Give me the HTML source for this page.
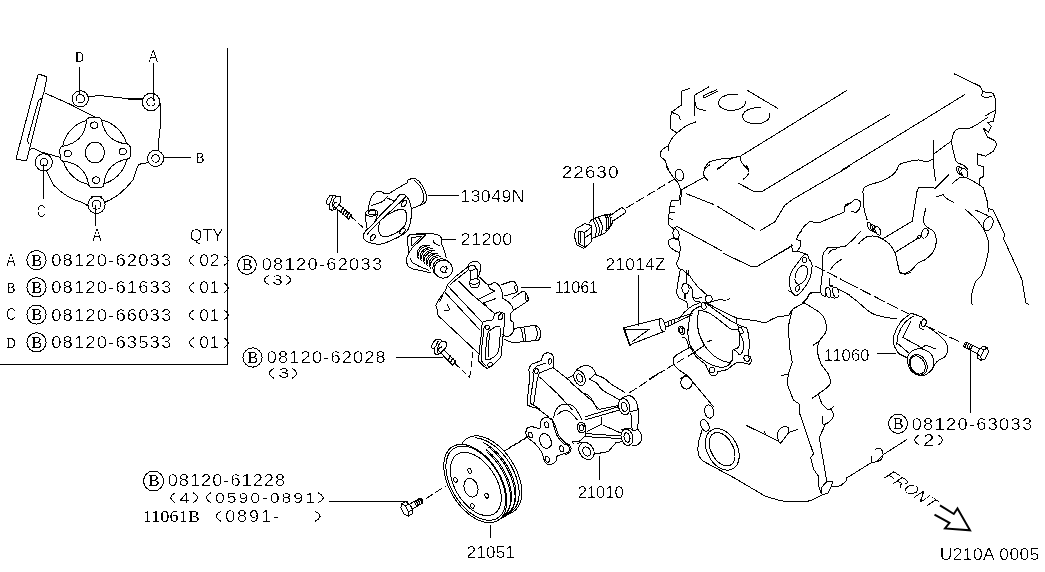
<!DOCTYPE html>
<html><head><meta charset="utf-8"><title>Water pump diagram</title>
<style>
html,body{margin:0;padding:0;background:#fff;}
body{width:1045px;height:572px;overflow:hidden;font-family:"Liberation Sans",sans-serif;}
svg{display:block;position:absolute;left:0;top:0;}
svg{will-change:transform;}
.l{fill:none;stroke:#000;stroke-width:1;shape-rendering:crispEdges;stroke-linecap:round;stroke-linejoin:round;}
.w{fill:#fff;stroke:#000;stroke-width:1;shape-rendering:crispEdges;stroke-linejoin:round;}
.t{font-family:"Liberation Sans",sans-serif;fill:#000;filter:url(#cr);}
.ts{font-family:"Liberation Serif",serif;fill:#000;filter:url(#cs);}
</style></head><body>
<svg width="1045" height="572" viewBox="0 0 1045 572">
<defs><filter id="cr" x="-5%" y="-20%" width="110%" height="140%" color-interpolation-filters="sRGB"><feComponentTransfer><feFuncA type="discrete" tableValues="0 0 1"/></feComponentTransfer></filter><filter id="cs" x="-5%" y="-20%" width="110%" height="140%" color-interpolation-filters="sRGB"><feComponentTransfer><feFuncA type="discrete" tableValues="0 1"/></feComponentTransfer></filter></defs>

<!-- 00_text.svg -->
<path class="l" d="M227.5 48.0L227.5 364.0"/>
<path class="l" d="M0.0 364.5L227.5 364.5"/>
<text class="ts" x="75.00" y="62.00" font-size="15.6" textLength="9.00" lengthAdjust="spacingAndGlyphs">D</text>
<text class="t" x="148.55" y="62.30" font-size="16.0" textLength="9.50" lengthAdjust="spacingAndGlyphs">A</text>
<text class="ts" x="195.50" y="163.00" font-size="15.6" textLength="9.00" lengthAdjust="spacingAndGlyphs">B</text>
<text class="t" x="36.80" y="217.30" font-size="16.0" textLength="9.00" lengthAdjust="spacingAndGlyphs">C</text>
<text class="t" x="92.25" y="241.30" font-size="16.0" textLength="9.50" lengthAdjust="spacingAndGlyphs">A</text>
<text class="t" transform="translate(189.70 241.30) scale(1.01 1)" font-size="16.0" textLength="33.16" lengthAdjust="spacing">QTY</text>
<text class="t" x="6.25" y="265.60" font-size="16.0" textLength="9.50" lengthAdjust="spacingAndGlyphs">A</text>
<circle class="l" cx="36.5" cy="260.1" r="9.6"/>
<text class="ts" x="31.30" y="265.50" font-size="16.2" textLength="11.00" lengthAdjust="spacingAndGlyphs">B</text>
<text class="t" transform="translate(51.20 266.00) scale(1.15 1)" font-size="16.1" textLength="104.43" lengthAdjust="spacing">08120-62033</text>
<path class="l" d="M193.5 255.8Q190.3 257.3 189.0 260.6Q190.3 263.8 193.5 265.3"/>
<text class="t" transform="translate(199.20 266.00) scale(1.08 1)" font-size="16.1" textLength="18.63" lengthAdjust="spacing">02</text>
<path class="l" d="M224.0 255.8Q227.2 257.3 228.5 260.6Q227.2 263.8 224.0 265.3"/>
<text class="ts" x="6.50" y="292.50" font-size="15.6" textLength="9.00" lengthAdjust="spacingAndGlyphs">B</text>
<circle class="l" cx="36.5" cy="287.3" r="9.6"/>
<text class="ts" x="31.30" y="292.70" font-size="16.2" textLength="11.00" lengthAdjust="spacingAndGlyphs">B</text>
<text class="t" transform="translate(51.20 293.20) scale(1.15 1)" font-size="16.1" textLength="104.43" lengthAdjust="spacing">08120-61633</text>
<path class="l" d="M193.5 283.0Q190.3 284.5 189.0 287.8Q190.3 291.0 193.5 292.5"/>
<text class="t" transform="translate(199.20 293.20) scale(1.08 1)" font-size="16.1" textLength="18.63" lengthAdjust="spacing">01</text>
<path class="l" d="M224.0 283.0Q227.2 284.5 228.5 287.8Q227.2 291.0 224.0 292.5"/>
<text class="t" x="6.25" y="320.10" font-size="16.0" textLength="9.50" lengthAdjust="spacingAndGlyphs">C</text>
<circle class="l" cx="36.5" cy="314.6" r="9.6"/>
<text class="ts" x="31.30" y="320.00" font-size="16.2" textLength="11.00" lengthAdjust="spacingAndGlyphs">B</text>
<text class="t" transform="translate(51.20 320.50) scale(1.15 1)" font-size="16.1" textLength="104.43" lengthAdjust="spacing">08120-66033</text>
<path class="l" d="M193.5 310.3Q190.3 311.8 189.0 315.1Q190.3 318.3 193.5 319.8"/>
<text class="t" transform="translate(199.20 320.50) scale(1.08 1)" font-size="16.1" textLength="18.63" lengthAdjust="spacing">01</text>
<path class="l" d="M224.0 310.3Q227.2 311.8 228.5 315.1Q227.2 318.3 224.0 319.8"/>
<text class="ts" x="6.50" y="347.50" font-size="15.6" textLength="9.00" lengthAdjust="spacingAndGlyphs">D</text>
<circle class="l" cx="36.5" cy="342.3" r="9.6"/>
<text class="ts" x="31.30" y="347.70" font-size="16.2" textLength="11.00" lengthAdjust="spacingAndGlyphs">B</text>
<text class="t" transform="translate(51.20 348.20) scale(1.15 1)" font-size="16.1" textLength="104.43" lengthAdjust="spacing">08120-63533</text>
<path class="l" d="M193.5 338.0Q190.3 339.5 189.0 342.8Q190.3 346.0 193.5 347.5"/>
<text class="t" transform="translate(199.20 348.20) scale(1.08 1)" font-size="16.1" textLength="18.63" lengthAdjust="spacing">01</text>
<path class="l" d="M224.0 338.0Q227.2 339.5 228.5 342.8Q227.2 346.0 224.0 347.5"/>
<circle class="l" cx="247.0" cy="265.0" r="9.3"/>
<text class="ts" x="241.80" y="270.40" font-size="16.2" textLength="11.00" lengthAdjust="spacingAndGlyphs">B</text>
<text class="t" transform="translate(261.70 270.30) scale(1.15 1)" font-size="15.9" textLength="104.70" lengthAdjust="spacing">08120-62033</text>
<path class="l" d="M268.5 275.5Q265.4 277.0 264.0 280.0Q265.4 283.0 268.5 284.5"/>
<text class="t" x="272.20" y="284.80" font-size="15.0" textLength="10.60" lengthAdjust="spacingAndGlyphs">3</text>
<path class="l" d="M286.5 275.5Q289.6 277.0 291.0 280.0Q289.6 283.0 286.5 284.5"/>
<path class="l" d="M337.5 207.0L337.5 252.5"/>
<text class="t" transform="translate(460.20 201.80) scale(1.07 1)" font-size="16.6" textLength="60.28" lengthAdjust="spacing">13049N</text>
<path class="l" d="M427.5 195.0L458.5 195.0"/>
<text class="t" transform="translate(460.50 245.30) scale(1.08 1)" font-size="16.6" textLength="48.00" lengthAdjust="spacing">21200</text>
<path class="l" d="M442.0 239.5L456.0 239.5"/>
<text class="t" transform="translate(561.70 177.80) scale(1.15 1)" font-size="16.6" textLength="49.42" lengthAdjust="spacing">22630</text>
<path class="l" d="M593.8 183.5L593.8 218.5"/>
<text class="t" transform="translate(605.50 270.30) scale(1.04 1)" font-size="16.6" textLength="57.72" lengthAdjust="spacing">21014Z</text>
<path class="l" d="M638.8 275.0L638.8 326.0"/>
<text class="t" transform="translate(554.70 293.30) scale(1.00 1)" font-size="16.6" textLength="43.60" lengthAdjust="spacing">11061</text>
<path class="l" d="M521.0 287.5L551.0 287.5"/>
<circle class="l" cx="252.5" cy="357.5" r="9.6"/>
<text class="ts" x="247.30" y="362.90" font-size="16.2" textLength="11.00" lengthAdjust="spacingAndGlyphs">B</text>
<text class="t" transform="translate(266.70 362.80) scale(1.15 1)" font-size="15.9" textLength="103.57" lengthAdjust="spacing">08120-62028</text>
<path class="l" d="M273.5 368.5Q270.4 370.0 269.0 373.2Q270.4 376.5 273.5 378.0"/>
<text class="t" x="278.20" y="378.30" font-size="15.0" textLength="11.10" lengthAdjust="spacingAndGlyphs">3</text>
<path class="l" d="M292.5 368.5Q295.6 370.0 297.0 373.2Q295.6 376.5 292.5 378.0"/>
<path class="l" d="M396.3 357.5L442.5 357.5"/>
<circle class="l" cx="153.6" cy="481.0" r="10.0"/>
<text class="ts" x="148.40" y="486.40" font-size="16.2" textLength="11.00" lengthAdjust="spacingAndGlyphs">B</text>
<text class="t" transform="translate(167.70 486.00) scale(1.15 1)" font-size="15.9" textLength="102.09" lengthAdjust="spacing">08120-61228</text>
<path class="l" d="M175.0 493.0Q171.8 494.5 170.5 497.8Q171.8 501.0 175.0 502.5"/>
<text class="t" x="179.20" y="502.80" font-size="15.0" textLength="10.60" lengthAdjust="spacingAndGlyphs">4</text>
<path class="l" d="M193.5 493.0Q196.7 494.5 198.0 497.8Q196.7 501.0 193.5 502.5"/>
<path class="l" d="M210.5 493.0Q207.3 494.5 206.0 497.8Q207.3 501.0 210.5 502.5"/>
<text class="t" transform="translate(215.00 502.80) scale(1.15 1)" font-size="15.4" textLength="86.78" lengthAdjust="spacing">0590-0891</text>
<path class="l" d="M318.5 493.0Q322.0 494.5 323.5 497.8Q322.0 501.0 318.5 502.5"/>
<path class="l" d="M329.0 501.5L408.0 501.5"/>
<text class="ts" x="142.70" y="521.60" font-size="17.6" textLength="57.30" lengthAdjust="spacingAndGlyphs">11061B</text>
<path class="l" d="M220.5 511.5Q217.3 513.0 216.0 516.2Q217.3 519.5 220.5 521.0"/>
<text class="t" transform="translate(225.20 521.80) scale(1.15 1)" font-size="15.6" textLength="46.61" lengthAdjust="spacing">0891-</text>
<path class="l" d="M315.5 511.5Q318.9 513.0 320.3 516.2Q318.9 519.5 315.5 521.0"/>
<text class="t" transform="translate(466.50 557.80) scale(1.03 1)" font-size="16.6" textLength="47.05" lengthAdjust="spacing">21051</text>
<path class="l" d="M490.5 525.3L490.5 537.8"/>
<text class="t" transform="translate(577.70 497.80) scale(1.00 1)" font-size="16.6" textLength="46.10" lengthAdjust="spacing">21010</text>
<path class="l" d="M599.5 456.5L599.5 480.0"/>
<text class="t" transform="translate(824.00 361.30) scale(1.00 1)" font-size="16.6" textLength="45.60" lengthAdjust="spacing">11060</text>
<path class="l" d="M877.0 353.8L896.0 353.8"/>
<circle class="l" cx="898.0" cy="423.8" r="9.5"/>
<text class="ts" x="892.80" y="429.20" font-size="16.2" textLength="11.00" lengthAdjust="spacingAndGlyphs">B</text>
<text class="t" transform="translate(911.70 429.50) scale(1.15 1)" font-size="15.9" textLength="104.70" lengthAdjust="spacing">08120-63033</text>
<path class="l" d="M919.0 435.0Q915.9 436.5 914.5 440.0Q915.9 443.5 919.0 445.0"/>
<text class="t" x="923.20" y="445.80" font-size="15.6" textLength="11.10" lengthAdjust="spacingAndGlyphs">2</text>
<path class="l" d="M938.0 435.0Q941.4 436.5 942.8 440.0Q941.4 443.5 938.0 445.0"/>
<path class="l" d="M970.5 351.3L970.5 412.5"/>
<text class="t" transform="translate(939.70 559.80) scale(1.05 1)" font-size="16.6" textLength="94.96" lengthAdjust="spacing">U210A 0005</text>
<g transform="translate(882.5,477) rotate(33.5) skewX(-22)"><text class="t" x="0" y="0" font-size="15.6" textLength="58" lengthAdjust="spacingAndGlyphs">FRONT</text></g>
<path d="M940 505.3L953.8 514L957.5 508.5L970 530.3L945 528.5L949.5 522.8L934.5 514.5" fill="none" stroke="#000" stroke-width="2" stroke-linejoin="miter"/>
<!-- 10_inset.svg -->
<path class="l" d="M88.5 96.5L100 95.6L128.6 98.7L142.5 99.5"/>
<path class="l" d="M129.2 99L141 99" style="stroke-width:2"/>
<path class="l" d="M159.3 99.5Q160.8 104 160.6 110L160.3 126L158.5 142.2L159 150"/>
<path class="l" d="M148 162.8L142.3 163.3Q138.5 164 137.3 167L133 179.8Q129 185 125.8 188Q121 193 115.8 196.7Q110 200 105.5 202"/>
<path class="l" d="M87.8 206Q85 203.5 82.2 202.6Q74 200 67.3 196.1Q59 191 53.6 185Q50 179 48.7 175L46.5 171"/>
<path class="l" d="M92.2 196.8L100.9 196.8" style="stroke-width:2"/>
<path class="l" d="M44.8 93L68.5 103.5L96 117.5"/>
<path class="l" d="M29.5 149.5Q33 147.5 36 149.5L40 151.7L60 157.3"/>
<path class="l" d="M39.6 74.4L45.7 76.4Q47.2 77 46.8 78.5L44.3 91L42.3 97.5L36.7 120L29.3 149.9L26.8 159.5Q26.3 160.8 24.8 160.6L17.3 159.4Q15.9 159 16.3 157.6L37.8 75.5Q38.3 74 39.6 74.4Z"/>
<path class="l" d="M42 98L38.5 100.5L33 120L27.4 140.5L28.7 144"/>
<circle class="l" cx="94.9" cy="152.2" r="32.8"/>
<g transform="rotate(-2 95.2 152.6)">
<path class="w" d="M102.8 121.1Q103.0 118.5 99.8 117.4L90.6 117.4Q87.4 118.5 87.6 121.1Q84.4 141.8 63.7 145.0Q61.1 144.8 60.0 148.0L60.0 157.2Q61.1 160.4 63.7 160.2Q84.4 163.4 87.6 184.1Q87.4 186.7 90.6 187.8L99.8 187.8Q103.0 186.7 102.8 184.1Q106.0 163.4 126.7 160.2Q129.3 160.4 130.4 157.2L130.4 148.0Q129.3 144.8 126.7 145.0Q106.0 141.8 102.8 121.1Z"/>
<ellipse class="l" cx="95.2" cy="125.1" rx="3.6" ry="3.2"/>
<ellipse class="l" cx="67.7" cy="152.6" rx="3.6" ry="3.2"/>
<ellipse class="l" cx="95.2" cy="180.1" rx="3.6" ry="3.2"/>
<ellipse class="l" cx="122.7" cy="152.6" rx="3.6" ry="3.2"/>
</g>
<ellipse class="l" cx="94.9" cy="152.6" rx="9.6" ry="10.4"/>
<circle class="w" cx="80.3" cy="98.8" r="8.1"/>
<circle class="l" cx="80.3" cy="98.8" r="4.2"/>
<circle class="w" cx="151.0" cy="102.0" r="8.7"/>
<circle class="l" cx="151.0" cy="102.0" r="4.1"/>
<circle class="w" cx="155.6" cy="158.4" r="8.1"/>
<circle class="l" cx="155.6" cy="158.4" r="3.8"/>
<circle class="w" cx="43.8" cy="162.3" r="8.6"/>
<circle class="l" cx="43.8" cy="162.3" r="3.8"/>
<circle class="w" cx="96.5" cy="204.8" r="8.6"/>
<circle class="l" cx="96.5" cy="204.8" r="4.4"/>
<path class="l" d="M79.5 67.5L79.5 94.5"/>
<path class="l" d="M153.4 63.8L153.4 100.5"/>
<path class="l" d="M164 157.2L191 157.2"/>
<path class="l" d="M43.4 164.5L43.4 198.6"/>
<path class="l" d="M95.6 205L95.6 225.3"/>
<!-- 20_top.svg -->
<path class="l" d="M407.0 183.0C407.1 182.6 407.1 181.1 407.5 180.5C407.9 179.9 408.1 179.4 409.5 179.2C410.9 178.9 413.7 178.1 415.8 179.0C417.9 179.9 420.2 182.2 422.0 184.9C423.8 187.6 425.6 192.1 426.3 194.9C427.0 197.7 426.7 199.9 426.0 201.5C425.3 203.1 422.7 203.9 422.0 204.4"/>
<path class="l" d="M414.5 180.3C415.6 181.5 419.3 184.8 420.8 187.4C422.3 190.0 423.3 193.8 423.7 196.1C424.1 198.4 423.6 199.8 423.2 201.1C422.8 202.4 421.5 203.7 421.2 204.2"/>
<path class="l" d="M407.0 183.0C405.5 183.8 400.9 186.3 398.0 188.0C395.1 189.7 391.9 192.0 389.7 193.0C387.5 194.0 386.1 194.1 384.7 193.8C383.2 193.5 382.4 191.6 381.0 191.3C379.6 191.0 377.6 191.2 376.0 192.1C374.4 193.0 372.8 194.6 371.6 196.7C370.5 198.8 369.6 202.5 369.1 204.8C368.6 207.1 368.6 209.6 368.5 210.5"/>
<path class="l" d="M422.0 204.4L411.4 208.8"/>
<path class="l" d="M371.6 205.4C373.4 204.8 379.6 203.1 382.2 201.7C384.8 200.2 386.4 197.5 387.2 196.7"/>
<path class="l" d="M387.2 198.0L394.6 201.3"/>
<path class="l" d="M399.6 194.9C401.3 193.9 403.1 194.1 404.6 194.9C406.2 195.7 407.8 197.6 408.9 199.9C410.0 202.2 410.9 206.1 411.4 208.6C411.8 211.1 412.1 211.7 411.6 215.0C411.1 218.3 410.1 225.4 408.5 228.7C406.9 232.0 405.1 232.9 402.2 234.9C399.3 236.9 394.7 238.9 391.0 240.5C387.3 242.1 383.6 243.9 379.9 244.2C376.2 244.5 371.4 243.4 368.7 242.5C366.0 241.6 364.5 239.8 363.6 238.5C362.8 237.2 363.3 235.7 363.6 234.5C363.9 233.3 363.9 233.0 365.5 231.2C367.1 229.4 371.1 226.0 373.5 223.5C375.9 221.0 376.2 219.7 379.7 216.0C383.2 212.3 391.3 204.6 394.6 201.1C397.9 197.6 397.9 195.9 399.6 194.9Z"/>
<path class="l" d="M405.8 196.9C403.8 198.8 398.6 203.7 394.0 208.0C389.4 212.3 382.3 218.7 378.3 222.5C374.3 226.3 371.7 229.1 369.9 231.1C368.1 233.1 367.8 233.8 367.4 234.3"/>
<path class="l" d="M381.0 219.8C383.6 217.5 390.9 212.7 394.6 211.0C398.3 209.3 401.3 209.4 403.3 209.8C405.3 210.2 406.0 211.2 406.4 213.5C406.8 215.8 406.7 220.8 405.8 223.5C404.9 226.2 402.8 227.8 401.0 229.5C399.2 231.2 397.3 232.4 394.8 233.6C392.3 234.8 388.4 236.4 386.1 236.7C383.8 237.0 382.2 236.4 381.0 235.5C379.8 234.6 378.9 232.8 378.6 231.0C378.3 229.2 378.7 226.6 379.1 224.7C379.5 222.8 378.4 222.1 381.0 219.8Z"/>
<path class="l" d="M405.73 204.60A2.00 3.60 30.0 1 0 402.27 202.60A2.00 3.60 30.0 1 0 405.73 204.60Z"/>
<path class="l" d="M404.03 232.49A2.00 3.40 40.0 1 0 400.97 229.91A2.00 3.40 40.0 1 0 404.03 232.49Z"/>
<path class="l" d="M374.44 238.55A2.00 3.40 35.0 1 0 371.16 236.25A2.00 3.40 35.0 1 0 374.44 238.55Z"/>
<path class="l" d="M377.78 212.46A6.20 3.20 -5.0 1 0 365.42 213.54A6.20 3.20 -5.0 1 0 377.78 212.46Z"/>
<path class="l" d="M368.3 212.0L370.0 210.8L374.5 210.6L376.0 211.8L375.6 214.2L369.5 214.8Z"/>
<path class="l" d="M365.6 214.0C365.7 215.3 365.7 219.4 366.0 222.0C366.3 224.6 367.1 228.4 367.3 229.7"/>
<path class="l" d="M377.6 214.0C377.4 214.8 376.8 217.1 376.3 218.5C375.8 219.9 375.0 221.6 374.7 222.2"/>
<g transform="translate(333.6 203.0) rotate(40.5)"><path class="w" d="M3.6 -2.3L21.5 -2.3L21.5 2.3L3.6 2.3" style="stroke-width:1"/><path class="l" d="M10.4 -2.6L11.3 2.6" style="stroke-width:1.3"/><path class="l" d="M13.0 -2.6L13.9 2.6" style="stroke-width:1.3"/><path class="l" d="M15.7 -2.6L16.6 2.6" style="stroke-width:1.3"/><path class="l" d="M18.3 -2.6L19.2 2.6" style="stroke-width:1.3"/><path class="l" d="M20.9 -2.6L21.8 2.6" style="stroke-width:1.3"/></g><g transform="translate(333.6 203.0) rotate(0.0)"><path class="w" d="M-3.4 -7.7L1.5 -7.7L2.4 -6.5L6.4 -6.7L7.4 -4.2L7.2 -0.7L5.8 1L3.2 4.5L2.1 5.9L-1.1 7.4L-4 6.2L-4.3 1L-6.3 1.6L-7.4 -0.7L-6.3 -3.9Z"/><path class="l" d="M-1.1 -6.5L-3.1 -0.7L-4.3 1M2.4 -6.5Q-0.5 -3.5 -1 0.5Q-1.2 4 0.2 6.6"/><path class="l" d="M3.3 -0.9Q0.2 -0.6 0.2 2.2Q0.4 4.6 2.4 4.4"/></g>
<path class="l" d="M350.5 216L365 229.3" stroke-dasharray="7 3.2" style="stroke-linecap:butt"/>
<path class="l" d="M409.1 235.1C410.0 234.9 411.1 234.3 414.4 234.1C417.7 233.9 424.9 233.6 428.8 233.7C432.7 233.8 435.4 233.9 437.5 234.6C439.6 235.3 440.6 236.4 441.3 238.0C442.0 239.6 441.4 242.4 441.8 244.2C442.2 246.0 443.2 247.4 443.8 249.0C444.4 250.6 444.8 252.4 445.2 253.8C445.6 255.2 446.0 257.1 446.2 257.7"/>
<path class="l" d="M409.1 235.1C408.9 235.5 407.9 235.7 407.7 237.5C407.5 239.3 407.9 243.3 408.0 246.0C408.1 248.7 408.4 251.7 408.2 253.8C408.0 255.9 406.8 256.8 406.7 258.7C406.6 260.6 406.7 263.7 407.7 265.4C408.7 267.1 410.1 267.9 412.5 268.8C414.9 269.7 419.1 270.0 422.1 270.7C425.1 271.4 429.1 272.6 430.5 273.0"/>
<path class="l" d="M414.4 234.4L426.0 234.6L423.1 237.5L412.5 247.6L408.2 253.8"/>
<path class="l" d="M411.5 237.5L421.6 236.5L412.0 246.2Z"/>
<path class="l" d="M410.1 258.2C410.5 258.9 411.0 261.1 412.5 262.5C414.0 263.9 416.5 265.0 419.2 266.3C421.9 267.6 427.2 269.6 428.8 270.2"/>
<path class="l" d="M433.2 240.4L435.1 243.8L439.9 245.7"/>
<path class="l" d="M433.2 240.4L433.7 242.8"/>
<path class="l" d="M418.4 258.4A8.8 8.8 0 0 1 429.3 245.8" style="stroke-width:1.0"/>
<path class="l" d="M418.5 255.9A8.8 8.8 0 0 1 426.1 246.4" style="stroke-width:1.0"/>
<path class="l" d="M421.4 260.8A8.7 8.7 0 0 1 432.1 248.5" style="stroke-width:1.0"/>
<path class="l" d="M421.6 258.4A8.7 8.7 0 0 1 429.0 249.0" style="stroke-width:1.0"/>
<path class="l" d="M424.4 263.2A8.5 8.5 0 0 1 434.9 251.1" style="stroke-width:1.0"/>
<path class="l" d="M424.6 260.8A8.5 8.5 0 0 1 431.9 251.7" style="stroke-width:1.0"/>
<path class="l" d="M427.4 265.7A8.4 8.4 0 0 1 437.8 253.8" style="stroke-width:1.0"/>
<path class="l" d="M427.6 263.3A8.4 8.4 0 0 1 434.8 254.3" style="stroke-width:1.0"/>
<path class="l" d="M430.4 268.1A8.2 8.2 0 0 1 440.6 256.4" style="stroke-width:1.0"/>
<path class="l" d="M430.6 265.8A8.2 8.2 0 0 1 437.7 257.0" style="stroke-width:1.0"/>
<path class="w" d="M450.80 268.00A9.00 9.30 0.0 1 0 432.80 268.00A9.00 9.30 0.0 1 0 450.80 268.00Z"/>
<path class="w" d="M452.50 269.20A9.20 9.00 0.0 1 0 434.10 269.20A9.20 9.00 0.0 1 0 452.50 269.20Z"/>
<path class="l" d="M441.2 267.6L443 266L444.6 267.2L446.4 266.6L447.2 269L445.6 270.6L446.2 272.2L443.6 273L442.2 271.4L440.4 270.8Z"/>
<!-- 30_11061.svg -->
<path class="l" d="M467.3 267.4C467.7 266.7 468.5 264.1 469.8 263.1C471.1 262.1 473.8 261.1 475.4 261.2C477.0 261.3 478.8 262.4 479.7 263.7C480.6 264.9 480.9 266.6 480.7 268.7C480.5 270.8 478.9 274.9 478.5 276.1"/>
<path class="l" d="M475.54 267.34A3.80 2.30 -10.0 1 0 468.06 268.66A3.80 2.30 -10.0 1 0 475.54 267.34Z"/>
<path class="l" d="M468.0 268.8L470.2 271.5L470.4 279.9"/>
<path class="l" d="M475.6 268.4L477.9 270.0L477.9 278.6"/>
<path class="l" d="M479.55 280.90A5.00 2.60 -8.0 1 0 469.65 282.30A5.00 2.60 -8.0 1 0 479.55 280.90Z"/>
<path class="l" d="M469.8 282.5C469.9 283.2 469.7 285.6 470.5 286.5C471.3 287.4 473.2 287.8 474.5 287.8C475.8 287.9 477.7 287.9 478.5 286.8C479.3 285.7 479.3 282.0 479.5 281.0"/>
<path class="l" d="M467.3 267.4L456.1 276.1L448.0 284.2L444.9 291.1L438.7 299.8L435.6 305.4L437.4 309.7L438.1 315.6L478.5 353.5"/>
<path class="l" d="M467.9 270.5L457.3 278.6L449.9 284.9"/>
<path class="l" d="M448.0 286.1L482.2 322.4"/>
<path class="l" d="M458.6 281.1L472.3 294.8L494.7 313.5"/>
<path class="l" d="M445.5 292.9L479.5 329.5"/>
<path class="l" d="M439.9 301.6L442.4 296.0"/>
<path class="l" d="M443.7 311.0C444.6 310.8 448.7 310.7 449.3 309.7C449.9 308.7 447.7 305.6 447.4 304.8"/>
<path class="l" d="M500.9 284.9L512.1 281.1L514.5 281.5L517.0 286.1L517.7 291.1L516.5 292.5L504.6 296.0"/>
<path class="l" d="M517.77 288.31A1.40 3.20 -12.0 1 0 515.03 288.89A1.40 3.20 -12.0 1 0 517.77 288.31Z"/>
<path class="l" d="M512.1 298.5L522.0 291.7L525.0 292.0L527.0 294.8L528.2 299.8L527.0 301.5L514.6 309.7"/>
<path class="l" d="M528.05 297.54A1.40 3.20 -15.0 1 0 525.35 298.26A1.40 3.20 -15.0 1 0 528.05 297.54Z"/>
<path class="l" d="M479.7 277.4C481.1 278.6 485.9 284.1 488.4 284.9C490.9 285.7 492.8 282.2 494.7 282.4C496.6 282.6 498.4 284.5 499.6 286.1C500.8 287.8 501.6 290.2 502.1 292.3C502.6 294.4 502.6 297.5 502.7 298.5"/>
<path class="l" d="M488.4 284.9L489.7 288.6L494.7 291.1L478.5 299.2"/>
<path class="l" d="M495.9 298.5L483.5 302.9L489.7 309.7L494.7 313.5"/>
<path class="l" d="M502.7 298.5C503.9 299.2 507.8 301.0 509.6 302.9C511.4 304.8 513.1 307.9 513.3 309.7C513.5 311.5 511.3 312.0 510.8 313.7C510.3 315.4 509.8 318.4 510.2 319.9C510.6 321.3 512.7 320.9 513.3 322.4C513.9 323.9 513.8 327.6 513.9 328.7"/>
<path class="w" d="M482.2 322.4L487.2 320.6L492.8 319.9L494.7 313.7L499.6 311.9L504.6 313.7L504.3 323.7L500.9 357.3L494.7 363.5L487.2 368.5L483.5 366.0L478.5 361.0L479.7 347.3L481.6 332.4Z"/>
<path class="l" d="M484.2 326.5L481.8 347.0L481.0 360.5L486.0 366.0"/>
<path class="l" d="M487.8 333.0C488.7 330.9 490.4 329.8 492.2 328.7C494.0 327.6 497.1 326.0 498.4 326.2C499.7 326.4 500.2 325.8 500.2 329.9C500.2 334.0 499.5 346.4 498.4 351.0C497.3 355.6 495.3 355.8 493.4 357.3C491.5 358.8 488.5 359.8 487.2 359.8C485.9 359.8 485.4 360.4 485.3 357.3C485.2 354.2 486.2 345.2 486.6 341.1C487.0 337.1 486.9 335.1 487.8 333.0Z"/>
<path class="l" d="M489.5 333.5L488.6 345.0L488.0 357.0"/>
<path class="l" d="M489.40 327.40A2.20 2.20 0.0 1 0 485.00 327.40A2.20 2.20 0.0 1 0 489.40 327.40Z"/>
<path class="l" d="M502.48 317.48A2.00 3.00 20.0 1 0 498.72 316.12A2.00 3.00 20.0 1 0 502.48 317.48Z"/>
<path class="l" d="M492.55 363.40A2.60 2.00 -30.0 1 0 488.05 366.00A2.60 2.00 -30.0 1 0 492.55 363.40Z"/>
<path class="l" d="M502.7 334.9C503.4 335.2 505.5 336.9 507.1 336.7C508.7 336.5 510.9 334.9 512.1 333.6C513.4 332.3 513.0 329.7 514.6 328.7C516.2 327.7 518.9 327.9 522.0 327.4C525.1 326.9 530.8 325.8 533.2 325.5C535.6 325.2 535.4 325.4 536.3 325.8C537.2 326.2 538.1 326.9 538.8 328.0C539.5 329.1 540.6 330.5 540.7 332.4C540.8 334.3 540.2 337.8 539.4 339.2C538.6 340.6 538.4 340.1 535.7 340.5C533.0 340.9 527.2 341.4 523.3 341.7C519.4 342.0 515.2 342.7 512.1 342.3C509.0 341.9 505.9 339.7 504.6 339.2"/>
<path class="l" d="M520.8 328.0C521.1 329.1 522.1 332.3 522.5 334.5C522.9 336.7 523.2 340.0 523.3 341.1"/>
<path class="l" d="M523.9 327.4C524.1 328.5 524.8 331.7 525.0 334.0C525.2 336.3 525.1 339.9 525.1 341.1"/>
<path class="l" d="M535.0 326.0C535.4 327.2 537.5 330.6 537.6 333.0C537.7 335.4 535.9 339.0 535.5 340.2"/>
<g transform="translate(438.7 347.5) rotate(46.0)"><path class="w" d="M3.6 -2.3L22.0 -2.3L22.0 2.3L3.6 2.3" style="stroke-width:1"/><path class="l" d="M14.4 -2.6L15.3 2.6" style="stroke-width:1.3"/><path class="l" d="M17.9 -2.6L18.8 2.6" style="stroke-width:1.3"/><path class="l" d="M21.4 -2.6L22.3 2.6" style="stroke-width:1.3"/></g><g transform="translate(438.7 347.5) rotate(5.5)"><path class="w" d="M-3.4 -7.7L1.5 -7.7L2.4 -6.5L6.4 -6.7L7.4 -4.2L7.2 -0.7L5.8 1L3.2 4.5L2.1 5.9L-1.1 7.4L-4 6.2L-4.3 1L-6.3 1.6L-7.4 -0.7L-6.3 -3.9Z"/><path class="l" d="M-1.1 -6.5L-3.1 -0.7L-4.3 1M2.4 -6.5Q-0.5 -3.5 -1 0.5Q-1.2 4 0.2 6.6"/><path class="l" d="M3.3 -0.9Q0.2 -0.6 0.2 2.2Q0.4 4.6 2.4 4.4"/></g>
<path class="l" d="M455 363.6L469.8 377.2" stroke-dasharray="6 3.2" style="stroke-linecap:butt"/>
<path class="l" d="M472.9 352.3L469.8 377.2" stroke-dasharray="6 3.2" style="stroke-linecap:butt"/>
<!-- 40_pulley.svg -->
<path class="w" d="M490.3 440.0L493.0 441.6L495.7 443.5L498.3 445.6L500.9 448.0L503.4 450.5L505.9 453.2L508.2 456.1L510.3 459.1L512.3 462.2L514.2 465.5L515.9 468.8L517.4 472.1L518.6 475.5L519.7 478.8L520.6 482.2L521.2 485.4L521.6 488.6L521.8 491.7L521.7 494.7L521.4 497.6L520.9 500.2L520.2 502.7L519.2 505.0L518.0 507.0L516.6 508.8L515.0 510.4L513.3 511.7L511.3 512.7L509.3 513.5L507.0 514.0L504.7 514.1L502.2 514.0L499.6 513.6L497.0 512.9L494.4 512.0L491.7 510.7L488.9 509.2L486.2 507.5L483.6 505.5L481.0 503.2L478.4 500.8L475.9 498.2L473.6 495.4L471.3 492.4L469.3 489.4L467.3 486.2L465.6 482.9L464.0 479.6L462.6 476.2L461.4 472.9L460.4 469.5L459.7 466.2L459.2 463.0L458.9 459.8L458.8 456.8L459.0 453.8L459.4 451.1L460.0 448.5L460.9 446.1L462.0 444.0L463.2 442.0L464.7 440.3L466.4 438.9L468.3 437.7L470.3 436.9L472.4 436.2L474.7 435.9L477.2 435.9L479.7 436.1L482.3 436.7L484.9 437.5L487.6 438.6Z"/>
<path class="l" d="M475.3 437.9L477.8 438.1L480.3 438.6L482.8 439.4L485.4 440.4L488.0 441.7L490.6 443.3L493.2 445.1L495.8 447.1L498.3 449.3L500.8 451.7L503.1 454.3L505.4 457.0L507.5 459.9L509.5 462.9L511.3 466.0L512.9 469.2L514.4 472.4L515.7 475.7L516.8 478.9L517.7 482.2L518.4 485.4L518.9 488.5L519.1 491.5L519.1 494.4L518.9 497.2L518.5 499.9L517.8 502.3L517.0 504.6L515.9 506.7L514.6 508.5L513.2 510.1L511.5 511.5L509.7 512.6L507.8 513.4L505.7 514.0L503.5 514.3L501.1 514.3L498.7 514.1L496.2 513.5L493.6 512.7L491.0 511.7"/>
<path class="l" d="M483.2 442.7L485.7 444.0L488.3 445.5L490.8 447.3L493.3 449.3L495.8 451.5L498.1 453.8L500.4 456.4L502.6 459.1L504.7 461.9L506.6 464.8L508.4 467.9L510.0 471.0L511.4 474.1L512.7 477.3L513.7 480.5L514.6 483.6L515.3 486.7L515.7 489.8L515.9 492.7L515.9 495.6L515.7 498.3L515.3 500.9L514.7 503.3L513.8 505.5L512.8 507.5L511.5 509.3L510.1 510.9L508.5 512.2L506.8 513.3L504.8 514.1L502.8 514.7L500.6 515.0L498.3 515.0L496.0 514.7L493.5 514.2L491.0 513.4"/>
<path class="l" d="M489.0 447.4L491.6 449.5L494.2 451.8L496.6 454.3L499.0 456.9L501.3 459.7L503.4 462.7L505.4 465.8L507.2 468.9L508.9 472.2L510.4 475.4L511.7 478.8L512.8 482.1L513.7 485.3L514.3 488.6L514.8 491.8L515.0 494.8L515.0 497.8L514.8 500.6L514.3 503.3L513.7 505.8L512.8 508.1L511.7 510.2L510.4 512.0L508.9 513.7L507.2 515.0L505.4 516.2L503.4 517.0L501.3 517.6L499.0 517.9L496.6 517.9L494.2 517.7L491.6 517.1L489.0 516.3"/>
<path class="l" d="M486.5 450.0L489.1 452.0L491.6 454.3L494.0 456.7L496.3 459.3L498.5 462.1L500.5 465.0L502.5 468.0L504.2 471.1L505.8 474.2L507.2 477.4L508.5 480.7L509.5 483.9L510.3 487.1L510.9 490.2L511.3 493.3L511.4 496.3L511.4 499.1L511.1 501.8L510.6 504.4L509.8 506.7L508.9 508.9L507.8 510.9L506.4 512.6L504.9 514.1L503.2 515.3L501.3 516.3L499.3 517.0L497.2 517.4L494.9 517.6L492.5 517.4L490.1 517.0L487.6 516.4"/>
<path class="l" d="M487.2 452.1L489.7 454.4L492.2 456.9L494.6 459.5L496.8 462.4L499.0 465.3L500.9 468.4L502.8 471.5L504.4 474.8L505.9 478.0L507.2 481.3L508.3 484.6L509.2 487.9L509.9 491.2L510.3 494.3L510.5 497.4L510.5 500.3L510.3 503.2L509.9 505.8L509.2 508.3L508.3 510.6L507.2 512.7L505.9 514.6L504.4 516.2L502.8 517.6L500.9 518.7L499.0 519.6L496.8 520.1L494.6 520.5L492.2 520.5L489.7 520.2L487.2 519.7"/>
<path class="w" d="M475.3 448.5L478.0 450.1L480.7 452.0L483.3 454.1L485.9 456.5L488.4 459.0L490.9 461.7L493.2 464.6L495.3 467.6L497.3 470.7L499.2 474.0L500.9 477.3L502.4 480.6L503.6 484.0L504.7 487.3L505.6 490.7L506.2 493.9L506.6 497.1L506.8 500.2L506.7 503.2L506.4 506.1L505.9 508.7L505.2 511.2L504.2 513.5L503.0 515.5L501.6 517.3L500.0 518.9L498.3 520.2L496.3 521.2L494.3 522.0L492.0 522.5L489.7 522.6L487.2 522.5L484.6 522.1L482.0 521.4L479.4 520.5L476.7 519.2L473.9 517.7L471.2 516.0L468.6 514.0L466.0 511.7L463.4 509.3L460.9 506.7L458.6 503.9L456.3 500.9L454.3 497.9L452.3 494.7L450.6 491.4L449.0 488.1L447.6 484.7L446.4 481.4L445.4 478.0L444.7 474.7L444.2 471.5L443.9 468.3L443.8 465.3L444.0 462.3L444.4 459.6L445.0 457.0L445.9 454.6L447.0 452.5L448.2 450.5L449.7 448.8L451.4 447.4L453.3 446.2L455.3 445.4L457.4 444.7L459.7 444.4L462.2 444.4L464.7 444.6L467.3 445.2L469.9 446.0L472.6 447.1Z"/>
<path class="l" d="M475.8 450.0L478.4 451.5L480.9 453.3L483.4 455.3L485.9 457.6L488.3 460.0L490.6 462.5L492.7 465.3L494.8 468.1L496.7 471.1L498.5 474.1L500.0 477.3L501.5 480.4L502.7 483.6L503.7 486.8L504.5 490.0L505.1 493.1L505.5 496.1L505.7 499.1L505.6 501.9L505.3 504.6L504.8 507.1L504.1 509.5L503.2 511.6L502.1 513.6L500.8 515.3L499.3 516.8L497.6 518.0L495.8 519.0L493.8 519.7L491.7 520.1L489.4 520.3L487.1 520.2L484.7 519.8L482.2 519.2L479.6 518.3L477.1 517.1L474.5 515.7L472.0 514.0L469.4 512.1L466.9 510.0L464.5 507.7L462.2 505.2L459.9 502.5L457.8 499.7L455.8 496.8L454.0 493.8L452.3 490.7L450.8 487.5L449.5 484.4L448.4 481.2L447.5 478.0L446.8 474.8L446.3 471.8L446.0 468.8L445.9 465.9L446.1 463.1L446.5 460.5L447.1 458.1L447.9 455.8L448.9 453.8L450.1 451.9L451.6 450.3L453.1 449.0L454.9 447.9L456.8 447.0L458.9 446.4L461.0 446.1L463.3 446.1L465.7 446.3L468.2 446.9L470.7 447.6L473.2 448.7Z"/>
<path class="l" d="M475.8 455.7L478.0 457.0L480.2 458.5L482.3 460.3L484.4 462.1L486.4 464.2L488.4 466.4L490.2 468.7L492.0 471.1L493.6 473.7L495.1 476.3L496.5 478.9L497.7 481.7L498.7 484.4L499.6 487.1L500.3 489.8L500.8 492.4L501.1 495.0L501.3 497.5L501.2 499.9L501.0 502.2L500.6 504.4L500.0 506.4L499.2 508.2L498.2 509.9L497.1 511.4L495.8 512.6L494.4 513.7L492.8 514.5L491.1 515.1L489.3 515.5L487.4 515.6L485.4 515.5L483.4 515.2L481.2 514.7L479.1 513.9L476.9 512.9L474.7 511.7L472.5 510.2L470.4 508.6L468.2 506.8L466.2 504.9L464.2 502.7L462.3 500.5L460.5 498.1L458.8 495.6L457.2 493.0L455.8 490.4L454.5 487.7L453.4 485.0L452.4 482.3L451.6 479.6L451.0 476.9L450.6 474.3L450.4 471.7L450.3 469.2L450.5 466.9L450.8 464.7L451.3 462.6L452.0 460.7L452.9 458.9L453.9 457.3L455.1 456.0L456.5 454.8L458.0 453.9L459.6 453.2L461.4 452.7L463.2 452.4L465.2 452.4L467.2 452.6L469.3 453.0L471.4 453.7L473.6 454.6Z"/>
<path class="l" d="M477.47 485.60A6.80 9.60 -18.0 1 0 464.53 489.80A6.80 9.60 -18.0 1 0 477.47 485.60Z"/>
<path class="l" d="M471.22 470.27A1.70 2.50 -18.0 1 0 467.98 471.33A1.70 2.50 -18.0 1 0 471.22 470.27Z"/>
<path class="l" d="M457.12 479.47A1.70 2.50 -18.0 1 0 453.88 480.53A1.70 2.50 -18.0 1 0 457.12 479.47Z"/>
<path class="l" d="M488.32 495.17A1.70 2.50 -18.0 1 0 485.08 496.23A1.70 2.50 -18.0 1 0 488.32 495.17Z"/>
<path class="l" d="M474.02 505.37A1.70 2.50 -18.0 1 0 470.78 506.43A1.70 2.50 -18.0 1 0 474.02 505.37Z"/>
<path class="l" d="M504.5 451L527 437.5" stroke-dasharray="8 3.2" style="stroke-linecap:butt"/>
<!-- 45_bolts.svg -->
<g transform="translate(405.0 510.0) rotate(-30.0) scale(1 1)"><path class="w" d="M5 -2.8L18.5 -2.8Q20.0 -2.6 20.0 0Q20.0 2.6 18.5 2.8L5 2.8Z"/><path class="l" d="M17.8 -2.8Q19.4 0 17.8 2.8"/><path class="l" d="M15.7 -2.8Q17.3 0 15.7 2.8"/><path class="l" d="M13.6 -2.8Q15.2 0 13.6 2.8"/><path class="l" d="M11.5 -2.8Q13.1 0 11.5 2.8"/><path class="w" d="M0 -7L4.5 -6.8Q7 -3.5 7 0Q7 3.5 4.5 6.8L0 7Z"/><path class="l" d="M1 -3.6L5.8 -3.4M1 3.6L5.8 3.4"/><path class="w" d="M0.2 -7L-2.6 -3.8L-2.8 3.6L0 7L2.2 3.8L2.4 -3.6Z"/></g>
<path class="l" d="M426 498.6L445.5 486" stroke-dasharray="8 3.2" style="stroke-linecap:butt"/>
<!-- 50_pump.svg -->
<path class="l" d="M553.5 367.4C553.5 365.6 553.9 359.1 553.5 356.8C553.1 354.5 552.2 354.3 551.0 353.7C549.8 353.1 547.6 352.7 546.1 353.1C544.6 353.5 543.1 355.0 542.3 356.2C541.5 357.4 542.9 359.1 541.1 360.5C539.4 361.9 533.9 362.7 531.8 364.3C529.7 365.9 529.0 368.1 528.7 369.9C528.4 371.6 530.1 369.4 529.9 374.8C529.7 380.2 527.4 397.0 527.4 402.2C527.4 407.4 528.2 405.1 529.9 406.2C531.6 407.3 534.3 406.9 537.4 408.7C540.5 410.5 546.7 415.4 548.6 416.8"/>
<path class="l" d="M546.1 363.0C544.4 363.6 538.3 365.1 536.1 366.7C533.9 368.2 533.4 370.5 533.0 372.3C532.6 374.1 534.0 372.5 533.6 377.3C533.2 382.1 530.5 396.3 530.5 400.9C530.5 405.5 532.0 403.6 533.6 405.0C535.2 406.4 538.9 408.6 539.9 409.3"/>
<path class="l" d="M553.5 367.4L539.2 373.0L537.4 378.6L533.6 404.7"/>
<path class="l" d="M551.74 361.87A1.80 2.80 15.0 1 0 548.26 360.93A1.80 2.80 15.0 1 0 551.74 361.87Z"/>
<path class="l" d="M538.14 371.57A1.80 2.60 15.0 1 0 534.66 370.63A1.80 2.60 15.0 1 0 538.14 371.57Z"/>
<path class="l" d="M553.5 368.0L567.2 378.6L577.2 387.9L584.6 394.7L592.1 400.9L597.1 407.5L599.6 409.3L618.2 405.6"/>
<path class="l" d="M539.9 377.3L557.3 393.5L572.2 409.6"/>
<path class="l" d="M567.2 378.6C568.2 378.0 571.7 376.4 573.4 374.8C575.1 373.2 575.3 370.8 577.2 369.2C579.1 367.6 582.3 365.9 584.6 365.5C586.9 365.1 589.2 365.9 590.8 366.7C592.4 367.5 593.5 369.4 594.2 370.5C594.9 371.6 595.9 372.2 595.2 373.6C594.5 375.0 590.8 377.9 589.9 378.7"/>
<path class="w" d="M584.40 375.76A5.30 7.60 -25.0 1 0 574.80 380.24A5.30 7.60 -25.0 1 0 584.40 375.76Z"/>
<path class="l" d="M582.14 376.82A2.80 4.30 -25.0 1 0 577.06 379.18A2.80 4.30 -25.0 1 0 582.14 376.82Z"/>
<path class="l" d="M594.9 374.4C596.5 375.1 601.8 376.9 604.5 378.5C607.2 380.1 607.6 381.7 611.0 384.0C614.4 386.3 622.4 391.0 624.7 392.4"/>
<path class="l" d="M589.9 379.3C591.1 380.0 595.0 381.7 597.1 383.5C599.2 385.3 598.7 387.3 602.3 389.9C605.9 392.5 615.8 397.6 618.5 399.2"/>
<path class="l" d="M570.0 381.8C572.1 383.6 579.1 389.9 582.4 392.4C585.7 394.9 587.4 393.8 589.9 396.7C592.4 399.6 596.1 407.6 597.4 409.8"/>
<path class="l" d="M629.1 393L664.5 370" stroke-dasharray="9 3.2" style="stroke-linecap:butt"/>
<path class="l" d="M619.1 399.9C620.7 399.2 625.9 395.6 628.5 395.5C631.1 395.4 633.2 397.4 634.7 399.2C636.2 401.0 637.4 404.3 637.8 406.1C638.2 407.9 638.6 408.9 637.2 409.8C635.9 410.7 631.0 411.4 629.7 411.7"/>
<path class="w" d="M629.51 405.28A5.50 8.00 -15.0 1 0 618.89 408.12A5.50 8.00 -15.0 1 0 629.51 405.28Z"/>
<path class="l" d="M626.90 406.18A2.80 4.50 -15.0 1 0 621.50 407.62A2.80 4.50 -15.0 1 0 626.90 406.18Z"/>
<path class="l" d="M637.8 407.3C638.0 408.3 639.0 410.0 639.0 413.5C639.0 417.0 637.5 425.2 637.8 428.5C638.1 431.8 640.3 431.5 640.9 433.4C641.5 435.3 642.0 437.8 641.5 439.7C641.0 441.6 639.6 443.4 638.0 444.5C636.4 445.6 633.0 445.8 632.0 446.0"/>
<path class="l" d="M630.9 412.9L632.2 430.9L637.8 429.5"/>
<path class="l" d="M553.5 417.4C553.9 416.2 554.8 412.1 556.0 410.0C557.2 407.9 558.9 405.9 561.0 405.0C563.1 404.1 566.2 404.0 568.5 404.4C570.8 404.8 572.4 404.9 574.7 407.5C577.0 410.1 580.9 417.8 582.1 419.9"/>
<path class="l" d="M557.3 414.9C558.1 414.3 560.1 411.7 562.2 411.2C564.3 410.7 567.2 410.4 569.7 411.8C572.2 413.2 576.0 418.5 577.2 419.9"/>
<path class="l" d="M585.2 416.8L618.2 406.8"/>
<path class="l" d="M585.2 419.9L619.5 410.0"/>
<path class="l" d="M585.9 433.6L621.9 436.1"/>
<path class="l" d="M585.9 436.7L621.9 438.6"/>
<path class="l" d="M601.4 417.4L601.4 423.6"/>
<path class="l" d="M601.4 424.3L587.7 431.1"/>
<path class="l" d="M603.9 425.5L620.7 433.0"/>
<path class="w" d="M585.64 426.87A4.20 5.20 -10.0 1 0 577.36 428.33A4.20 5.20 -10.0 1 0 585.64 426.87Z"/>
<path class="l" d="M583.77 427.40A2.30 3.00 -10.0 1 0 579.23 428.20A2.30 3.00 -10.0 1 0 583.77 427.40Z"/>
<path class="l" d="M584.6 423.0L585.4 430.0L585.2 436.1L579.7 441.0L572.2 441.7L573.4 443.5"/>
<path class="w" d="M592.23 446.98A7.00 9.00 -35.0 1 0 580.77 455.02A7.00 9.00 -35.0 1 0 592.23 446.98Z"/>
<path class="l" d="M589.75 449.44A3.60 4.80 -35.0 1 0 583.85 453.56A3.60 4.80 -35.0 1 0 589.75 449.44Z"/>
<path class="l" d="M577.5 443.5C578.4 443.2 581.1 442.0 583.0 442.0C584.9 442.0 588.0 443.2 589.0 443.5"/>
<path class="l" d="M594.6 454.1L608.3 451.6L615.7 442.9L621.9 441.7"/>
<path class="l" d="M621.0 430.0C622.2 429.7 626.0 428.0 628.0 428.0C630.0 428.0 632.2 429.6 633.1 429.9"/>
<path class="w" d="M632.60 435.80A5.80 8.00 -15.0 1 0 621.40 438.80A5.80 8.00 -15.0 1 0 632.60 435.80Z"/>
<path class="l" d="M629.70 436.78A2.80 4.50 -15.0 1 0 624.30 438.22A2.80 4.50 -15.0 1 0 629.70 436.78Z"/>
<path class="w" d="M541.1 420.5C542.1 418.7 544.3 417.5 546.1 417.4C547.9 417.3 550.5 418.6 551.7 419.9C552.9 421.1 552.6 422.2 553.5 424.9C554.4 427.6 555.6 433.0 557.3 436.1C559.0 439.2 561.6 441.9 563.5 443.5C565.4 445.1 567.6 444.8 568.5 446.0C569.4 447.2 569.7 449.8 569.1 451.0C568.5 452.2 566.7 452.7 564.7 453.5C562.7 454.3 558.8 454.8 557.3 456.0C555.8 457.2 557.0 459.4 556.0 460.9C555.0 462.3 552.6 464.3 551.0 464.7C549.4 465.1 547.3 464.4 546.1 463.4C544.9 462.4 544.3 460.4 543.6 458.5C542.9 456.6 543.2 454.7 541.7 452.2C540.2 449.7 537.3 446.0 534.9 443.5C532.5 441.0 528.8 439.6 527.4 437.3C526.0 435.0 525.6 431.7 526.2 429.9C526.8 428.1 528.8 427.0 531.1 426.7C533.4 426.4 538.2 429.0 539.9 428.0C541.6 427.0 540.1 422.3 541.1 420.5Z"/>
<path class="l" d="M551.7 418.7C552.3 419.9 554.2 423.2 555.4 426.1C556.6 429.0 557.5 433.3 559.1 436.1C560.8 438.9 563.5 441.3 565.3 442.9C567.1 444.4 569.0 444.0 569.9 445.4C570.8 446.8 571.4 449.5 570.8 451.0C570.1 452.5 566.8 453.9 566.0 454.5"/>
<path class="l" d="M550.59 438.90A5.60 7.40 -22.0 1 0 540.21 443.10A5.60 7.40 -22.0 1 0 550.59 438.90Z"/>
<path class="l" d="M548.5 435.5Q552.5 441 551 446.5"/>
<path class="l" d="M548.58 424.22A2.00 3.00 -20.0 1 0 544.82 425.58A2.00 3.00 -20.0 1 0 548.58 424.22Z"/>
<path class="l" d="M532.38 434.42A2.00 2.80 -20.0 1 0 528.62 435.78A2.00 2.80 -20.0 1 0 532.38 434.42Z"/>
<path class="l" d="M563.48 448.12A2.00 3.00 -20.0 1 0 559.72 449.48A2.00 3.00 -20.0 1 0 563.48 448.12Z"/>
<path class="l" d="M549.18 458.62A2.00 3.00 -20.0 1 0 545.42 459.98A2.00 3.00 -20.0 1 0 549.18 458.62Z"/>
<path class="l" d="M526.2 437.5L510 447.3" stroke-dasharray="8 3.2" style="stroke-linecap:butt"/>
<!-- 60_sensor.svg -->
<path class="w" d="M576.2 228.6L584.9 223.6L591.1 225.5L591.7 241.6L583.7 248.5L576.8 244.8L574.3 236.0Z"/>
<path class="l" d="M578.7 231.1L578.7 243.5L583.7 246.6"/>
<path class="l" d="M578.7 231.1L584.9 232.3L591.1 227.3"/>
<path class="l" d="M584.9 232.3L584.3 247.2"/>
<path class="l" d="M580.5 232.3L580.5 242.9"/>
<path class="l" d="M584.9 237.8L591.1 233.6"/>
<path class="l" d="M589.9 222.5C590.2 222.1 590.6 220.8 591.5 220.0C592.4 219.2 593.3 218.8 595.5 218.0C597.7 217.2 602.8 215.5 604.8 214.9C606.8 214.3 607.0 214.3 607.5 214.2"/>
<path class="l" d="M591.7 238.5C593.3 237.9 598.7 235.8 601.1 234.8C603.5 233.8 604.2 234.0 606.0 232.3C607.8 230.7 610.7 226.1 611.6 224.9"/>
<path class="l" d="M595.5 218.6C596.1 220.1 598.7 224.4 599.2 227.3C599.7 230.2 598.7 234.6 598.6 236.0"/>
<path class="l" d="M598.6 217.6C599.2 219.0 601.9 223.2 602.3 226.1C602.7 229.0 601.3 233.4 601.1 234.8"/>
<path class="l" d="M593.0 219.3C593.5 220.8 595.9 225.1 596.3 228.0C596.7 230.9 595.6 235.5 595.5 237.0"/>
<path class="l" d="M604.8 214.9Q608.4 220.5 606.0 230.8" style="stroke-width:1.2"/>
<path class="l" d="M606.7 214.6Q610.3 219.9 607.9 228.9" style="stroke-width:1.2"/>
<path class="l" d="M608.6 214.3Q612.2 219.4 609.8 227.0" style="stroke-width:1.2"/>
<path class="l" d="M610.4 214.1Q614.0 218.8 611.6 225.2" style="stroke-width:1.2"/>
<path class="l" d="M607.5 214.2Q610.5 213.8 612 217"/>
<path class="w" d="M610.8 215.2L621.6 207.4L624.7 209.3L625.9 212.4L612.9 221.1"/>
<path class="l" d="M625.9 208.1L675.5 178.5" stroke-dasharray="9 3.2" style="stroke-linecap:butt"/>
<path class="l" d="M623.7 327.9L659.1 318.9"/>
<path class="l" d="M629.9 344.7L663.5 331.7"/>
<path class="l" d="M623.7 327.9L629.9 345.3" style="stroke-width:1.8"/>
<path class="l" d="M625.5 329.2L649.2 329.2L632.4 341.6"/>
<path class="w" d="M664.82 324.37A2.60 6.70 -14.0 1 0 659.78 325.63A2.60 6.70 -14.0 1 0 664.82 324.37Z"/>
<path class="l" d="M664.7 323.0L668.5 321.1L677.8 318.0L689.6 314.3"/>
<path class="l" d="M665.3 327.3L668.5 326.1L679.7 320.5L689.6 316.1"/>
<path class="l" d="M668.0 321.3L668.3 326.2"/>
<path class="l" d="M671.2 320.2L671.4 324.6"/>
<path class="l" d="M674.8 319.0L675.0 322.8"/>
<!-- 70_engine1.svg -->
<path class="l" d="M689.4 88.5L681.7 91.2L681.2 105.2L671.2 112.3L670.2 128.3L676.9 133.1"/>
<path class="l" d="M671.2 112.3C672.3 112.7 676.4 113.6 677.9 114.8C679.4 116.0 679.8 118.8 680.2 119.6"/>
<path class="l" d="M708.7 86.9L694.6 95.2L694.6 115.8"/>
<path class="l" d="M694.6 100.4C695.0 101.7 695.2 106.4 697.1 108.1C699.0 109.8 704.3 110.0 705.8 110.4"/>
<path class="l" d="M716.3 89.8L703.8 95.6Q702.5 97.5 704.8 97.5L717.3 91.2"/>
<path class="l" d="M745.58 101.59A13.50 8.00 -3.0 1 0 718.62 103.01A13.50 8.00 -3.0 1 0 745.58 101.59Z"/>
<path class="l" d="M769.68 115.09A13.50 8.00 -3.0 1 0 742.72 116.51A13.50 8.00 -3.0 1 0 769.68 115.09Z"/>
<path class="l" d="M739 95.5L745.5 100" style="stroke:#fff;stroke-width:2.5"/>
<path class="l" d="M762 108.5L768.5 112.5" style="stroke:#fff;stroke-width:2.5"/>
<path class="l" d="M747.1 90.2L777.9 108.5"/>
<path class="l" d="M846.2 90.8L740.4 156.2"/>
<path class="l" d="M668.3 145.6C668.8 144.5 670.1 141.1 671.5 139.0C672.9 136.9 674.5 135.2 676.9 133.1C679.2 131.0 682.5 128.2 685.6 126.3C688.8 124.4 694.1 122.6 695.8 121.9"/>
<path class="l" d="M668.3 145.6C667.2 146.4 662.8 148.6 661.5 150.4C660.2 152.2 660.0 154.4 660.6 156.2C661.2 158.0 664.3 158.7 665.4 161.0C666.5 163.3 667.0 168.3 667.3 169.8"/>
<path class="l" d="M668.3 144.6L668.3 150.4"/>
<path class="l" d="M704.8 167.7C705.6 166.7 706.9 163.3 709.6 161.9C712.3 160.5 717.4 159.6 721.2 159.0C725.1 158.4 729.5 158.6 732.7 158.1C735.9 157.6 739.0 155.6 740.4 156.2C741.8 156.8 740.0 159.6 741.3 161.9C742.6 164.2 747.0 168.5 748.1 169.8"/>
<path class="l" d="M717.3 169.8L732.7 157.1"/>
<path class="l" d="M798.1 169.8L850.0 137.9L889.8 114.4"/>
<path class="l" d="M842.3 169.8L964.8 94.6"/>
<path class="l" d="M954.2 73.8L980.6 86.5L982.5 91.7L987.3 92.3L993.1 93.1L995.6 99.4L995.6 111.9"/>
<path class="l" d="M982.5 91.7C982.4 92.3 981.4 94.6 981.9 95.6C982.4 96.6 983.8 97.3 985.4 97.5C987.0 97.7 990.2 96.7 991.2 96.5"/>
<path class="l" d="M995.0 110.4L985.4 115.8"/>
<path class="l" d="M995.6 111.9L993.1 121.5L987.3 122.5L991.2 126.3L988.3 132.1L983.5 128.3L987.3 136.9L995.0 140.8L996.9 144.6L993.1 151.3L985.4 156.2L977.7 153.8L977.7 164.8L983.5 166.9L983.5 176.5L979.6 178.5L979.6 185.2L983.5 188.1L987.3 201.5L988.3 211.2"/>
<path class="l" d="M987.3 117.7C984.6 119.4 975.8 125.8 971.0 127.7C966.2 129.6 961.4 127.9 958.5 128.8C955.6 129.7 954.8 130.8 953.7 133.1C952.6 135.4 951.6 138.8 951.7 142.7C951.9 146.5 953.8 153.0 954.6 156.2C955.4 159.4 954.9 160.3 956.5 161.9C958.1 163.5 962.3 164.5 964.2 165.8C966.1 167.1 967.5 169.1 968.1 169.8"/>
<path class="l" d="M951.7 140.8L933.5 154.2"/>
<path class="l" d="M933.5 140.4L933.5 165.0L935.4 180.4"/>
<path class="l" d="M896.9 169.8C897.5 168.8 897.3 165.4 900.8 163.8C904.3 162.2 913.9 160.3 918.1 160.0C922.3 159.7 923.3 162.1 925.8 161.9C928.3 161.7 931.9 159.5 933.1 159.0"/>
<path class="l" d="M683.54 174.27A4.20 5.80 -10.0 1 0 675.26 175.73A4.20 5.80 -10.0 1 0 683.54 174.27Z"/>
<path class="l" d="M666.3 165.0C667.1 166.6 669.1 171.4 671.2 174.6C673.3 177.8 677.3 181.3 678.8 184.2C680.3 187.1 680.4 189.2 680.4 191.9C680.4 194.6 679.1 199.2 678.8 200.6"/>
<path class="l" d="M704.8 176.9L681.7 189.6L680.4 204.4"/>
<path class="l" d="M709.6 165.0C708.8 165.6 705.8 167.2 704.8 168.8C703.8 170.4 703.0 172.7 703.5 174.6C704.0 176.5 707.0 179.4 707.7 180.4"/>
<path class="l" d="M717.3 168.5L724.0 165.0"/>
<path class="l" d="M746.2 165.0C746.7 166.3 749.5 170.3 749.0 172.7C748.5 175.1 744.2 178.3 743.3 179.4"/>
<path class="l" d="M738.5 183.3L754.8 191.9L761.5 191.9L805.8 165.0L798.1 169.8"/>
<path class="l" d="M686.5 193.8L713.5 204.4"/>
<path class="l" d="M717.3 206.3L754.8 229.4"/>
<path class="l" d="M760.6 230.4L775.0 221.7L784.6 205.4L792.3 199.6L850.0 166.0L842.3 169.8"/>
<path class="l" d="M678.8 200.6L671.2 200.6L669.2 211.2L668.3 224.6L673.1 228.5L676.9 226.5"/>
<path class="l" d="M669.5 206.3L675.0 206.3"/>
<path class="l" d="M669.2 212.1L675.0 212.1"/>
<path class="l" d="M669.0 218.0L673.0 220.0"/>
<path class="l" d="M676.9 226.5L721.2 250.6"/>
<path class="l" d="M724.0 253.5L750.0 266.0L757.7 266.0L792.3 245.8"/>
<path class="l" d="M678.95 233.68A3.00 5.00 -10.0 1 0 673.05 234.72A3.00 5.00 -10.0 1 0 678.95 233.68Z"/>
<path class="l" d="M669.2 240.0C668.2 240.9 667.6 242.2 668.3 243.8C668.9 245.4 671.2 248.3 673.1 249.6C675.0 250.9 678.8 253.1 679.8 251.5C680.8 249.9 679.8 242.2 678.8 240.0C677.8 237.8 675.6 238.5 674.0 238.5C672.4 238.5 670.2 239.1 669.2 240.0Z"/>
<path class="l" d="M679.8 251.5L678.8 259.2L676.0 263.1L678.8 268.8L682.7 269.8L688.5 275.0"/>
<path class="l" d="M797.1 237.1L803.8 226.5L809.6 221.7L819.2 222.7L832.7 216.9L844.2 212.1L845.2 204.4L850.0 203.5L854.6 199.6"/>
<!-- 71_engine2.svg -->
<path class="l" d="M898.8 165.0C898.2 166.3 897.5 170.1 895.0 172.7C892.5 175.3 888.0 178.3 883.5 180.4C879.0 182.5 871.5 183.8 868.1 185.2C864.7 186.6 864.1 186.9 863.3 189.0C862.5 191.1 863.1 194.3 863.3 197.7C863.4 201.1 863.6 205.5 864.2 209.2C864.8 212.9 866.6 218.0 867.1 219.8"/>
<path class="l" d="M854.6 199.6C855.4 199.8 858.4 199.5 859.4 200.6C860.4 201.7 860.9 204.4 860.4 206.3C859.9 208.2 858.0 211.3 856.5 212.1C855.0 212.9 852.5 211.3 851.7 211.2"/>
<path class="l" d="M845.0 206.3L848.8 204.4"/>
<path class="l" d="M871.81 225.65A2.00 4.30 -25.0 1 0 868.19 227.35A2.00 4.30 -25.0 1 0 871.81 225.65Z"/>
<path class="l" d="M874.71 227.25A2.00 4.30 -25.0 1 0 871.09 228.95A2.00 4.30 -25.0 1 0 874.71 227.25Z"/>
<path class="l" d="M877.31 228.65A2.00 4.30 -25.0 1 0 873.69 230.35A2.00 4.30 -25.0 1 0 877.31 228.65Z"/>
<path class="w" d="M880.17 229.74A2.50 4.60 -25.0 1 0 875.63 231.86A2.50 4.60 -25.0 1 0 880.17 229.74Z"/>
<path class="l" d="M858.5 243.8C859.8 242.7 863.3 238.4 866.2 237.1C869.1 235.8 873.1 235.9 875.8 236.2C878.5 236.5 881.4 238.5 882.5 239.0"/>
<path class="l" d="M882.5 239.0L912.3 221.2L917.1 191.0L918.5 188.0L921.9 187.1L935.4 188.1L948.8 174.6"/>
<path class="l" d="M961.77 169.44A2.50 4.60 -25.0 1 0 957.23 171.56A2.50 4.60 -25.0 1 0 961.77 169.44Z"/>
<path class="l" d="M964.07 170.54A2.50 4.60 -25.0 1 0 959.53 172.66A2.50 4.60 -25.0 1 0 964.07 170.54Z"/>
<path class="w" d="M967.12 171.53A3.00 5.00 -25.0 1 0 961.68 174.07A3.00 5.00 -25.0 1 0 967.12 171.53Z"/>
<path class="l" d="M952.7 183.3C954.0 182.3 957.8 178.3 960.4 177.5C963.0 176.7 964.9 177.2 968.1 178.5C971.3 179.8 977.7 184.1 979.6 185.2"/>
<path class="l" d="M936.3 196.7L943.1 194.8L946.9 198.7L953.7 202.5"/>
<path class="l" d="M925.8 208.3C925.5 209.7 924.1 214.5 923.8 216.9C923.5 219.3 923.1 220.9 923.8 222.7C924.4 224.5 925.9 225.9 927.7 227.5C929.5 229.1 933.0 229.9 934.4 232.3C935.8 234.7 936.4 238.7 936.3 241.9C936.1 245.1 935.2 248.6 933.5 251.5C931.8 254.4 928.4 257.3 925.8 259.2C923.2 261.1 920.7 261.2 918.1 263.1C915.5 265.0 913.3 269.0 910.4 270.8C907.5 272.6 902.9 274.7 900.8 273.7C898.7 272.7 898.9 268.5 897.9 265.0C896.9 261.5 896.5 256.0 895.0 252.5C893.5 249.0 891.3 246.1 889.2 243.8C887.1 241.6 883.6 239.8 882.5 239.0"/>
<path class="l" d="M927.81 234.39A3.20 5.00 20.0 1 0 921.79 232.21A3.20 5.00 20.0 1 0 927.81 234.39Z"/>
<path class="l" d="M920.50 237.00A1.50 1.50 0.0 1 0 917.50 237.00A1.50 1.50 0.0 1 0 920.50 237.00Z"/>
<path class="l" d="M895.0 252.5L919.0 237.5"/>
<path class="l" d="M965.2 209.2C967.3 211.1 974.5 217.3 977.7 220.8C980.9 224.3 983.3 228.8 984.4 230.4"/>
<path class="l" d="M975.8 210.2L987.3 215.4"/>
<path class="w" d="M992.53 225.24A4.50 7.20 20.0 1 0 984.07 222.16A4.50 7.20 20.0 1 0 992.53 225.24Z"/>
<path class="l" d="M984.4 230.4C985.0 232.3 987.8 237.4 988.3 241.9C988.8 246.4 988.4 251.8 987.3 257.3C986.2 262.8 983.4 271.0 981.5 275.0C979.6 279.0 977.4 278.5 975.8 281.5C974.2 284.5 972.6 289.6 971.9 293.1C971.2 296.6 971.3 300.8 971.5 302.7C971.7 304.6 972.7 304.3 972.9 304.6"/>
<path class="l" d="M988.3 208.3L993.1 210.2L1004.6 234.2L1003.7 239.0L1020.0 275.0L1021.9 279.6L1025.8 302.7L1028.7 304.6"/>
<path class="l" d="M899.8 272.0C900.6 272.4 902.7 274.2 904.6 274.2C906.5 274.2 910.2 272.4 911.3 272.0"/>
<path class="l" d="M846.9 282.5L908.5 313.8" stroke-dasharray="12 3.2" style="stroke-linecap:butt"/>
<path class="l" d="M925.8 325.8L962.3 343.1" stroke-dasharray="10 3.2" style="stroke-linecap:butt"/>
<path class="l" d="M845.0 292.1C846.9 293.6 851.7 297.1 856.5 300.8C861.3 304.5 867.1 311.2 873.8 314.2C880.5 317.2 893.0 318.2 896.9 319.0"/>
<path class="l" d="M911.3 313.3C909.5 314.7 903.7 318.2 900.8 321.9C897.9 325.6 895.1 331.5 894.0 335.4C892.9 339.2 893.2 341.9 894.0 345.0C894.8 348.1 898.0 352.2 898.8 353.7"/>
<path class="l" d="M913.3 316.2C911.8 317.3 907.2 319.7 904.6 322.9C902.0 326.1 899.2 331.7 897.9 335.4C896.6 339.1 897.1 343.4 896.9 345.0"/>
<path class="l" d="M911.3 313.3C913.1 313.9 919.5 315.8 921.9 317.1C924.3 318.4 925.1 320.4 925.8 321.0"/>
<path class="l" d="M926.02 323.50A2.30 4.00 15.0 1 0 921.58 322.30A2.30 4.00 15.0 1 0 926.02 323.50Z"/>
<path class="l" d="M921.0 321.0L919.0 327.7L923.8 329.6"/>
<path class="l" d="M925.8 325.8C927.7 327.1 934.1 330.9 937.3 333.5C940.5 336.1 943.2 338.6 945.0 341.2C946.8 343.8 947.9 346.2 947.9 348.8C947.9 351.4 946.8 354.4 945.0 356.5C943.2 358.6 939.5 359.1 937.3 361.3C935.0 363.6 932.5 368.6 931.5 370.0"/>
<path class="l" d="M910.4 321.9L902.7 337.3L921.9 347.9L925.8 345.0L935.4 348.8"/>
<path class="l" d="M896.0 342.1L908.5 352.7"/>
<path class="l" d="M898.8 353.7L908.5 358.5"/>
<path class="w" d="M908.5 354.6C909.6 352.6 911.8 351.0 914.0 350.0C916.2 349.0 919.0 348.0 921.9 348.8C924.8 349.6 929.6 351.7 931.5 354.6C933.4 357.5 933.9 363.2 933.5 366.2C933.1 369.2 930.9 370.9 929.0 372.5C927.1 374.1 924.7 375.9 921.9 375.8C919.1 375.7 914.7 374.1 912.3 371.9C909.9 369.6 908.1 365.2 907.5 362.3C906.9 359.4 907.4 356.7 908.5 354.6Z"/>
<path class="l" d="M925.63 360.90A8.30 10.80 -28.0 1 0 910.97 368.70A8.30 10.80 -28.0 1 0 925.63 360.90Z"/>
<path class="l" d="M923.78 361.71A7.00 9.60 -28.0 1 0 911.42 368.29A7.00 9.60 -28.0 1 0 923.78 361.71Z"/>
<g transform="translate(984.5 354.2) rotate(206.5) scale(1 -1)"><path class="w" d="M5 -2.8L21.0 -2.8Q22.5 -2.6 22.5 0Q22.5 2.6 21.0 2.8L5 2.8Z"/><path class="l" d="M20.3 -2.8Q21.9 0 20.3 2.8"/><path class="l" d="M18.2 -2.8Q19.8 0 18.2 2.8"/><path class="l" d="M16.1 -2.8Q17.7 0 16.1 2.8"/><path class="l" d="M14.0 -2.8Q15.6 0 14.0 2.8"/><path class="w" d="M0 -7L4.5 -6.8Q7 -3.5 7 0Q7 3.5 4.5 6.8L0 7Z"/><path class="l" d="M1 -3.6L5.8 -3.4M1 3.6L5.8 3.4"/><path class="w" d="M0.2 -7L-2.6 -3.8L-2.8 3.6L0 7L2.2 3.8L2.4 -3.6Z"/></g>
<!-- 72_engine3.svg -->
<path class="l" d="M680.3 270.0L677.6 283.7L676.6 293.2L678.7 297.9L685.5 301.1L686.6 301.6L688.2 308.4"/>
<path class="l" d="M686.0 270.0L686.0 283.5"/>
<path class="l" d="M689.09 288.09A3.60 5.20 -5.0 1 0 681.91 288.71A3.60 5.20 -5.0 1 0 689.09 288.09Z"/>
<path class="l" d="M685 293.7L685 298.4" style="stroke-width:1.6"/>
<path class="l" d="M688.2 270.0C688.3 270.7 687.2 271.6 688.7 274.2C690.2 276.8 694.1 282.4 697.1 285.8C700.1 289.2 705.0 293.2 706.6 294.7"/>
<path class="l" d="M688.7 284.7C689.3 285.6 691.7 287.9 692.4 290.0C693.1 292.1 692.5 295.5 692.9 297.4C693.3 299.2 693.8 300.3 695.0 301.1C696.2 301.9 699.4 301.9 700.3 302.1"/>
<path class="l" d="M693.4 297.4C694.0 297.6 695.8 298.4 697.1 298.4C698.4 298.4 700.6 297.6 701.3 297.4"/>
<path class="l" d="M712.10 298.90A3.40 3.50 0.0 1 0 705.30 298.90A3.40 3.50 0.0 1 0 712.10 298.90Z"/>
<path class="l" d="M711.8 301.6C712.9 301.3 715.7 300.3 718.2 300.0C720.7 299.7 724.7 300.3 726.6 300.0C728.5 299.7 729.2 298.5 729.7 298.2"/>
<path class="l" d="M705.86 304.98A2.40 3.50 -20.0 1 0 701.34 306.62A2.40 3.50 -20.0 1 0 705.86 304.98Z"/>
<path class="l" d="M705.5 302.1C706.9 302.9 710.0 304.8 713.9 306.8C717.8 308.8 724.7 312.3 728.7 314.2C732.8 316.1 734.0 317.3 738.2 318.4C742.4 319.4 749.4 319.8 753.9 320.5C758.4 321.2 763.5 322.5 765.4 322.9"/>
<path class="l" d="M706.6 303.7C708.5 305.1 714.5 309.5 718.2 312.1C721.9 314.7 725.4 317.4 728.7 319.5C732.0 321.6 735.2 323.3 738.2 324.7C741.2 326.1 745.2 327.4 746.6 327.9"/>
<path class="l" d="M698.7 310.5C699.8 310.7 703.1 310.8 705.5 311.6C707.9 312.4 710.1 313.5 712.9 315.3C715.7 317.1 719.4 320.3 722.4 322.6C725.4 324.9 728.3 327.8 730.8 328.9C733.3 330.0 736.5 329.4 737.6 329.5"/>
<path class="l" d="M736.6 318.4L737.1 324.7L739.2 327.4"/>
<path class="l" d="M742.61 329.65A2.00 3.40 -25.0 1 0 738.99 331.35A2.00 3.40 -25.0 1 0 742.61 329.65Z"/>
<path class="l" d="M700.3 302.6C698.9 303.2 694.4 304.7 691.8 306.3C689.2 307.9 686.7 309.9 684.5 312.1C682.3 314.3 679.7 318.3 678.7 319.5"/>
<path class="l" d="M701.3 305.8C700.2 306.3 696.9 307.3 695.0 308.9C693.1 310.5 690.8 311.8 689.7 315.3C688.7 318.8 689.1 327.5 688.7 330.0C688.4 332.5 687.4 328.1 687.6 330.5C687.8 332.9 688.4 340.0 689.7 344.2C691.0 348.4 693.0 352.5 695.5 355.8C698.0 359.1 702.9 361.8 705.0 364.2C707.1 366.6 707.2 368.6 708.2 370.5C709.2 372.4 709.9 374.6 711.3 375.3C712.7 376.0 715.5 375.3 716.6 374.7C717.7 374.1 717.4 372.1 717.6 371.6"/>
<path class="l" d="M698.7 310.5C698.5 312.1 697.6 316.3 697.6 320.0C697.6 323.7 697.7 328.6 698.7 332.6C699.8 336.6 702.0 340.9 703.9 344.2C705.8 347.5 707.8 350.2 710.3 352.6C712.8 355.1 715.9 357.3 718.7 358.9C721.5 360.5 725.0 361.7 727.1 362.1C729.2 362.6 730.6 361.7 731.3 361.6"/>
<path class="l" d="M689.7 344.2C690.9 345.9 694.2 352.0 696.6 354.7C699.0 357.4 701.3 358.7 703.9 360.5C706.5 362.3 709.4 364.2 712.4 365.3C715.4 366.4 719.2 367.4 721.8 367.4C724.4 367.4 726.4 366.5 728.2 365.3C730.0 364.1 731.7 360.9 732.4 360.0"/>
<path class="l" d="M717.6 371.6C719.2 371.2 724.6 370.6 727.1 369.5C729.6 368.4 730.5 366.5 732.4 365.3C734.3 364.1 736.6 362.5 738.7 362.1C740.8 361.8 743.2 362.9 745.0 363.2C746.8 363.5 748.2 364.5 749.2 364.2C750.2 363.9 751.1 362.8 751.3 361.6C751.5 360.4 750.8 357.8 750.3 356.8C749.8 355.8 748.6 356.0 748.2 355.8"/>
<path class="l" d="M746.6 327.9C747.0 329.2 748.3 332.7 748.7 335.8C749.1 338.9 749.3 343.0 749.2 346.3C749.1 349.6 748.4 354.2 748.2 355.8"/>
<path class="l" d="M737.6 329.5C738.1 330.6 739.8 333.7 740.8 335.8C741.8 337.9 743.0 339.7 743.4 342.1C743.8 344.6 743.5 348.4 742.9 350.5C742.3 352.6 740.8 354.5 739.7 354.7C738.7 354.9 737.7 352.5 736.6 351.6C735.5 350.7 734.1 349.5 733.4 349.5C732.7 349.5 732.6 349.9 732.4 351.6C732.2 353.4 732.4 358.6 732.4 360.0"/>
<path class="l" d="M739.2 334.7C739.3 336.3 740.0 342.0 739.7 344.2C739.4 346.4 738.7 347.0 737.6 347.9C736.5 348.8 734.1 349.2 733.4 349.5"/>
<path class="l" d="M748.87 357.34A2.50 3.20 -25.0 1 0 744.33 359.46A2.50 3.20 -25.0 1 0 748.87 357.34Z"/>
<path class="l" d="M714.60 370.00A2.80 2.80 0.0 1 0 709.00 370.00A2.80 2.80 0.0 1 0 714.60 370.00Z"/>
<path class="l" d="M678.2 328.9C678.2 329.9 678.3 331.7 679.2 332.6C680.1 333.5 682.4 334.6 683.4 334.2C684.4 333.8 685.1 331.7 685.0 330.5C684.9 329.3 683.4 327.5 682.5 326.8C681.6 326.1 680.2 326.1 679.5 326.5C678.8 326.9 678.2 327.9 678.2 328.9Z"/>
<path class="l" d="M682.79 329.75A1.90 2.50 -20.0 1 0 679.21 331.05A1.90 2.50 -20.0 1 0 682.79 329.75Z"/>
<path class="l" d="M682.4 337.4C683.0 337.6 685.0 337.4 686.1 338.9C687.2 340.4 688.0 344.7 688.7 346.3C689.4 347.9 690.0 348.0 690.3 348.4"/>
<path class="l" d="M689.7 347.4C687.3 348.8 678.2 353.5 675.5 355.8C672.8 358.1 673.6 359.5 673.4 361.1C673.2 362.7 673.5 363.7 674.5 365.3C675.5 366.9 677.8 368.9 679.7 370.5C681.6 372.1 684.3 373.3 686.1 374.7C687.9 376.1 689.6 378.2 690.3 378.9"/>
<path class="l" d="M689.6 314.3L693.0 313.2"/>
<path class="l" d="M689.6 316.1L692.0 315.4"/>
<path class="l" d="M650.0 378.6L660.0 372.6"/>
<path class="l" d="M667.1 368.4L673.4 364.7"/>
<path class="l" d="M677.1 362.6L683.9 358.4"/>
<path class="l" d="M688.2 356.3L703.9 345.8"/>
<path class="l" d="M707.1 342.1L711.8 340.0"/>
<path class="l" d="M680.8 378.7C681.8 378.1 684.9 374.6 686.5 374.8C688.1 375.0 689.8 379.0 690.4 379.8"/>
<path class="l" d="M765.4 322.9C767.3 321.9 773.0 318.4 776.9 317.1C780.8 315.8 785.9 316.5 788.5 315.2C791.1 313.9 789.8 311.5 792.3 309.4C794.8 307.3 800.9 305.3 803.8 302.7C806.7 300.1 807.0 295.8 809.6 294.0C812.2 292.2 817.6 292.4 819.2 292.1"/>
<path class="l" d="M792.3 309.4L788.5 325.8L789.4 346.9L792.3 362.3L788.5 373.8L787.5 379.8L787.5 384.6L793.3 400.0L799.0 403.8L799.0 411.5L813.5 453.8L810.6 457.7L813.5 469.2L818.8 476.5L818.3 484.8L821.2 493.5"/>
<path class="l" d="M781.7 375.8L788.5 373.8"/>
<path class="l" d="M803.8 302.7C806.4 304.3 815.7 309.4 819.2 312.3C822.7 315.2 823.9 316.8 825.0 320.0C826.1 323.2 827.0 328.0 826.0 331.5C825.0 335.0 820.7 338.0 819.2 341.2C817.8 344.4 817.0 347.0 817.3 350.8C817.6 354.6 819.3 360.2 821.2 364.2C823.1 368.2 827.4 371.6 828.8 375.0C830.2 378.4 831.4 381.6 829.8 384.6C828.2 387.7 822.1 391.1 819.2 393.3C816.3 395.6 813.6 397.3 812.5 398.1"/>
<path class="l" d="M813.5 345.0L819.2 341.2"/>
<path class="l" d="M692.30 382.70A5.80 6.30 0.0 1 0 680.70 382.70A5.80 6.30 0.0 1 0 692.30 382.70Z"/>
<path class="l" d="M688.5 376.9L713.5 406.7"/>
<path class="l" d="M713.53 410.74A4.40 6.40 -10.0 1 0 704.87 412.26A4.40 6.40 -10.0 1 0 713.53 410.74Z"/>
<path class="l" d="M708.24 423.79A3.80 6.00 -25.0 1 0 701.36 427.01A3.80 6.00 -25.0 1 0 708.24 423.79Z"/>
<path class="l" d="M735.54 442.36A15.00 21.50 -28.0 1 0 709.06 456.44A15.00 21.50 -28.0 1 0 735.54 442.36Z"/>
<path class="l" d="M731.81 444.04A11.00 17.50 -28.0 1 0 712.39 454.36A11.00 17.50 -28.0 1 0 731.81 444.04Z"/>
<path class="l" d="M701.9 430.8C701.3 433.0 698.6 440.0 698.1 444.2C697.6 448.4 698.0 452.9 699.0 455.8C700.0 458.7 703.0 460.6 703.8 461.5"/>
<path class="l" d="M703.8 461.5L734.6 478.1L765.4 496.3"/>
<path class="l" d="M765.4 496.3C768.6 497.1 777.5 500.4 784.6 501.2C791.7 502.0 801.6 502.2 807.7 501.2C813.8 500.2 819.0 496.4 821.2 495.4"/>
<path class="l" d="M746.2 425.4L776.9 440.4L780.8 443.3L788.5 432.7L798.1 429.2"/>
<path class="l" d="M778.5 441.5C778.3 440.1 776.8 435.4 777.5 433.0C778.2 430.6 780.9 427.9 782.7 427.0C784.5 426.1 787.7 426.6 788.5 427.8C789.3 429.0 787.8 433.0 787.7 434.0"/>
<path class="l" d="M764.5 431.5L765.5 434.5"/>
<path class="l" d="M818.3 393.3C818.9 395.1 820.4 401.1 822.1 403.8C823.9 406.5 826.9 409.1 828.8 409.6C830.7 410.1 832.9 407.2 833.7 406.7"/>
<path class="l" d="M830.8 408.7C831.3 409.8 834.0 413.2 833.7 415.4C833.4 417.6 830.6 420.7 828.8 422.1C827.0 423.5 824.2 425.0 823.1 424.0C822.0 423.0 822.3 417.6 822.1 416.3"/>
<path class="l" d="M826.0 423.1L819.2 437.5L826.9 481.9"/>
<path class="l" d="M821.2 493.5L823.1 494.4L827.9 493.5L830.8 487.7L832.7 481.9L826.9 481.5L822.1 486.7Z"/>
<path class="l" d="M832.7 486.7L840.4 485.8L846.2 481.0L846.2 477.1L848.1 477.1L871.2 462.7L876.9 461.7L882.7 455.0L906.7 439.6"/>
<path class="l" d="M875.0 449.2C876.0 449.1 879.4 447.8 880.8 448.8C882.1 449.8 883.1 453.2 883.1 455.0C883.1 456.8 881.8 458.7 880.8 459.8C879.8 460.9 877.5 461.4 876.9 461.7"/>
<path class="l" d="M871.2 456.0L871.5 462.7"/>
<!-- 73_gasket.svg -->
<path class="l" d="M770.0 258.7L791.0 246.1"/>
<path class="l" d="M791.7 244.7L792.4 251.7L797.3 251.0L800.1 246.8L800.1 240.5L796.6 239.8L797.3 236.3L802.2 230.0"/>
<path class="l" d="M797.3 251.0L807.1 254.5"/>
<path class="l" d="M802.9 255.9C804.2 254.8 806.0 253.9 807.1 254.5C808.2 255.1 808.4 257.6 809.2 259.4C810.0 261.1 811.8 262.2 812.0 265.0C812.2 267.8 811.6 272.7 810.6 276.2C809.6 279.7 807.5 283.1 805.7 285.9C804.0 288.7 801.7 291.3 800.1 292.9C798.5 294.5 797.2 295.7 795.9 295.7C794.6 295.7 793.4 294.5 792.4 292.9C791.4 291.3 790.1 288.4 789.6 285.9C789.1 283.3 789.0 280.4 789.6 277.6C790.2 274.8 791.5 272.0 793.1 269.2C794.7 266.4 797.8 263.0 799.4 260.8C801.0 258.6 801.6 256.9 802.9 255.9Z"/>
<path class="l" d="M806.49 276.90A5.60 9.60 22.0 1 0 796.11 272.70A5.60 9.60 22.0 1 0 806.49 276.90Z"/>
<path class="l" d="M806.57 260.85A2.20 2.60 20.0 1 0 802.43 259.35A2.20 2.60 20.0 1 0 806.57 260.85Z"/>
<path class="l" d="M799.11 289.35A2.00 3.00 25.0 1 0 795.49 287.65A2.00 3.00 25.0 1 0 799.11 289.35Z"/>
<path class="l" d="M788.9 290.8L794.5 294.3"/>
<path class="l" d="M814.8 265.7L850 284" stroke-dasharray="11 3.2" style="stroke-linecap:butt"/>
<path class="l" d="M838.5 289.2L850 295"/>
<path class="l" d="M822.4 272.0L823.1 253.1L828.0 247.5L837.1 247.5L845.5 246.1L852.7 240.0L860.4 231.3"/>
<path class="l" d="M828.7 253.1C829.2 252.6 830.2 251.0 831.5 250.3C832.8 249.6 835.6 249.1 836.4 248.9"/>
<path class="l" d="M830.1 269.9C831.0 268.8 833.7 265.2 835.6 263.5C837.5 261.8 840.3 260.1 841.3 259.4"/>
<path class="l" d="M822.4 272.0L820.3 291.5L822.4 295.7L825.9 296.4L825.9 291.5"/>
<path class="l" d="M829.4 278.3L829.4 285.2L833.0 286.0"/>
<path class="l" d="M830.56 291.78A2.40 5.00 -10.0 1 0 825.84 292.62A2.40 5.00 -10.0 1 0 830.56 291.78Z"/>
<path class="l" d="M830.8 286.6L837.0 288.0"/>
<path class="l" d="M830.8 297.1L835.0 298.2"/>
<path class="w" d="M838.70 291.52A3.00 5.40 -15.0 1 0 832.90 293.08A3.00 5.40 -15.0 1 0 838.70 291.52Z"/>
<path class="l" d="M819.7 292.2C818.2 292.3 812.7 291.8 810.6 292.9C808.5 293.9 808.4 296.9 807.1 298.5C805.8 300.1 803.6 302.0 802.9 302.7"/>
</svg>
</body></html>
